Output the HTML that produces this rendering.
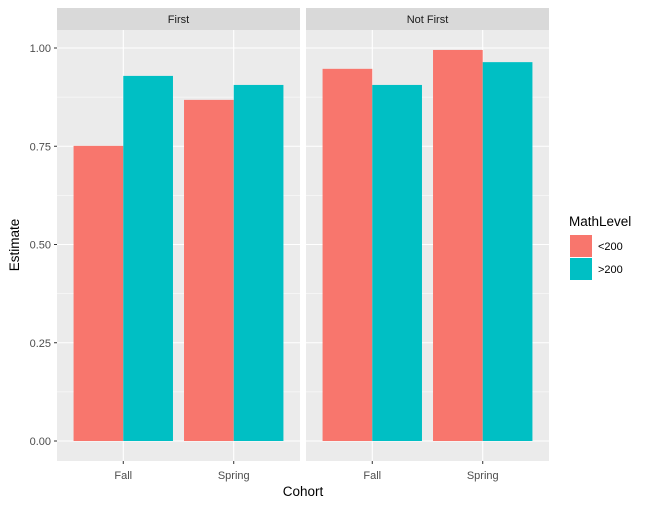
<!DOCTYPE html>
<html><head><meta charset="utf-8"><style>body{margin:0;background:#fff}svg{display:block;font-family:"Liberation Sans",Arial,sans-serif}</style></head>
<body>
<svg id="chart" width="650" height="506" viewBox="0 0 650 506"></svg>
<script>
const panels = ["First", "Not First"];
const cohorts = ["Fall", "Spring"];
const levels = ["<200", ">200"];
const colors = ["#F8766D", "#00BFC4"];
const valuesFirst = [[0.751, 0.929], [0.868, 0.906]];
const valuesNotFirst = [[0.947, 0.906], [0.995, 0.964]];
const yTicks = [0, 0.25, 0.5, 0.75, 1.0];
const yTickLabels = ["0.00", "0.25", "0.50", "0.75", "1.00"];

const NS = "http://www.w3.org/2000/svg";
const svg = document.getElementById("chart");
function mk(tag, attrs, parent) { const e = document.createElementNS(NS, tag); for (const k in attrs) e.setAttribute(k, attrs[k]); (parent || svg).appendChild(e); return e; }
const y0 = 441, yScale = 393;
const yPos = v => y0 - v * yScale;
const panelX = [57, 306], panelW = 243, plotTop = 30, plotBottom = 461;
const unit = panelW / 2.2;
const xPos = (p, i) => panelX[p] + (i + 0.6) * unit;
const data = [valuesFirst, valuesNotFirst];

panels.forEach((name, p) => {
  const g = mk("g", {});
  
  
  const bg = mk("rect", { x: panelX[p], y: plotTop, width: panelW, height: plotBottom - plotTop, fill: "#EBEBEB" }, g);
  
  
  const st = mk("rect", { x: panelX[p], y: 8, width: panelW, height: 22, fill: "#D9D9D9" }, g);
  
  
  const stt = mk("text", { x: panelX[p] + panelW / 2, y: 23, "text-anchor": "middle", "font-size": 11, fill: "#1A1A1A" }, g);
  stt.textContent = name;
  
  
  for (let i = 0; i < yTicks.length - 1; i++) {
    const v = (yTicks[i] + yTicks[i + 1]) / 2;
    const l = mk("line", { x1: panelX[p], x2: panelX[p] + panelW, y1: yPos(v), y2: yPos(v), stroke: "#fff", "stroke-width": 0.55 }, g);
    
    
  }
  yTicks.forEach(v => {
    const l = mk("line", { x1: panelX[p], x2: panelX[p] + panelW, y1: yPos(v), y2: yPos(v), stroke: "#fff", "stroke-width": 1.1 }, g);
    
    
  });
  cohorts.forEach((c, i) => {
    const cx = xPos(p, i);
    const l = mk("line", { x1: cx, x2: cx, y1: plotTop, y2: plotBottom, stroke: "#fff", "stroke-width": 1.1 }, g);
    
    
    levels.forEach((lv, j) => {
      const v = data[p][i][j];
      const bw = 0.45 * unit;
      const r = mk("rect", { x: cx - 0.45 * unit + j * bw, y: yPos(v), width: bw, height: yPos(0) - yPos(v), fill: colors[j] }, g);
      
      
    });
    const tk = mk("line", { x1: cx, x2: cx, y1: plotBottom, y2: plotBottom + 3, stroke: "#333", "stroke-width": 1 }, g);
    
    
    const t = mk("text", { x: cx, y: 479, "text-anchor": "middle", "font-size": 11, fill: "#4D4D4D" }, g);
    t.textContent = c;
    
    
  });
});
yTicks.forEach((v, i) => {
  const tk = mk("line", { x1: 54, x2: 57, y1: yPos(v), y2: yPos(v), stroke: "#333", "stroke-width": 1 });
  
  
  const t = mk("text", { x: 51, y: yPos(v) + 4, "text-anchor": "end", "font-size": 11, fill: "#4D4D4D" });
  t.textContent = yTickLabels[i];
  
  
});
const yt = mk("text", { x: 19, y: 245, "text-anchor": "middle", "font-size": 13.5, fill: "#000", transform: "rotate(-90 19 245)" });
yt.textContent = "Estimate";


const xt = mk("text", { x: 303, y: 496, "text-anchor": "middle", "font-size": 13.5, fill: "#000" });
xt.textContent = "Cohort";


const lt = mk("text", { x: 569, y: 226, "font-size": 13.5, fill: "#000" });
lt.textContent = "MathLevel";


levels.forEach((lv, j) => {
  const ky = 235 + j * 23;
  const k = mk("rect", { x: 570, y: ky, width: 22, height: 22, fill: colors[j] });
  
  
  const t = mk("text", { x: 598, y: ky + 15, "font-size": 11, fill: "#000" });
  t.textContent = lv;
  
  
});
</script>
</body></html>
